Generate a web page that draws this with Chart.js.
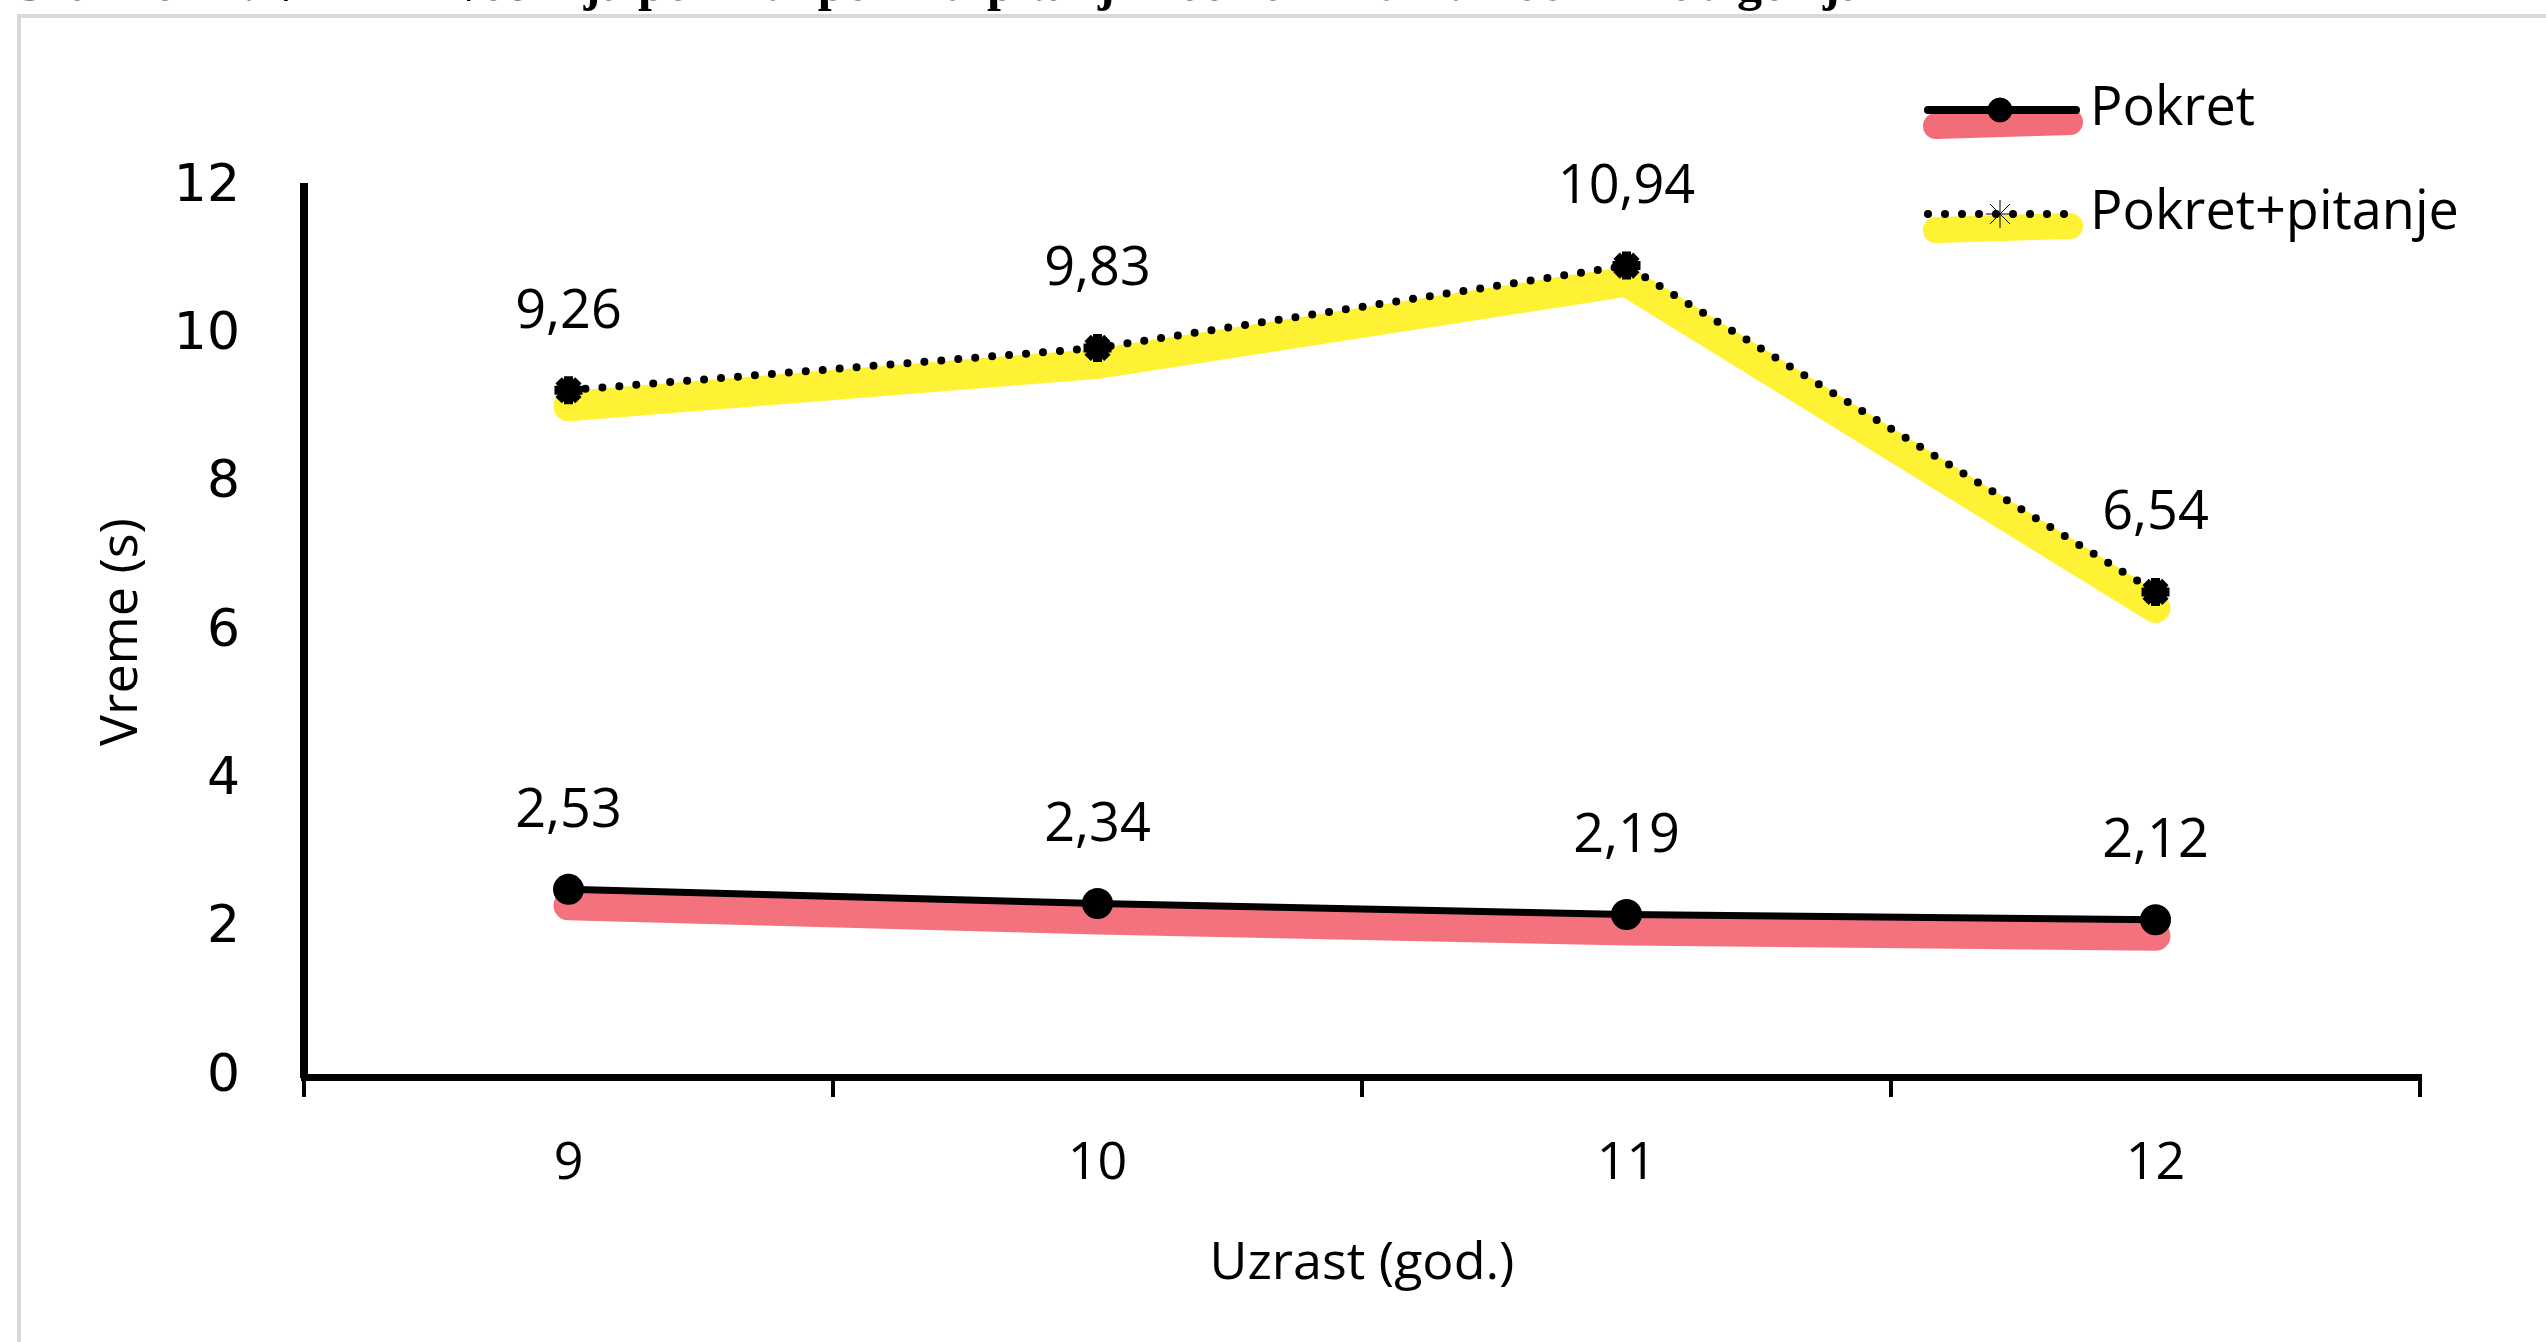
<!DOCTYPE html>
<html>
<head>
<meta charset="utf-8">
<script src="https://cdn.jsdelivr.net/npm/chart.js@4.4.0/dist/chart.umd.min.js"></script>
<style>
  html, body { margin: 0; padding: 0; background: #ffffff; overflow: hidden; }
  #wrap { width: 2546px; height: 1342px; }
</style>
</head>
<body>
<div id="wrap"><canvas id="chart" width="2546" height="1342"></canvas></div>
<script>
// podaci sa grafikona
const uzrast = ["9", "10", "11", "12"];
const pokret = [2.53, 2.34, 2.19, 2.12];
const pokretPitanje = [9.26, 9.83, 10.94, 6.54];
const yTicks = [0, 2, 4, 6, 8, 10, 12];

const naslov = "Grafikon 1. Vreme izvođenja pokret i pokret+pitanje kod različitih uzrasnih kategorija";
const font = "'Open Sans', 'Noto Sans', sans-serif";

// formatira broj sa zarezom
function fmt(v) {
  return v.toFixed(2).replace(".", ",");
}

// okvir i naslov (odsečen gore)
const framePlugin = {
  id: "frame",
  beforeDraw(chart) {
    const ctx = chart.ctx;
    ctx.save();
    ctx.fillStyle = "#ffffff";
    ctx.fillRect(0, 0, chart.width, chart.height);
    ctx.strokeStyle = "#d9d9d9";
    ctx.lineWidth = 4;
    ctx.beginPath();
    ctx.moveTo(19, chart.height + 10);
    ctx.lineTo(19, 16);
    ctx.lineTo(chart.width + 10, 16);
    ctx.stroke();
    ctx.fillStyle = "#000";
    ctx.font = "bold 50px 'Liberation Serif', serif";
    ctx.textBaseline = "alphabetic";
    ctx.fillText(naslov, 8, 0);
    ctx.restore();
  },
};

// pomeranje markera (highlight) malo nadole
const shiftPlugin = {
  id: "shift",
  beforeDatasetDraw(chart, args) {
    const ds = chart.data.datasets[args.index];
    if (ds.shiftY) {
      chart.ctx.save();
      chart.ctx.translate(ds.shiftX || 0, ds.shiftY);
    }
  },
  afterDatasetDraw(chart, args) {
    const ds = chart.data.datasets[args.index];
    if (ds.shiftY) chart.ctx.restore();
  },
};

// vrednosti iznad tačaka
const labelPlugin = {
  id: "labels",
  afterDatasetsDraw(chart) {
    const ctx = chart.ctx;
    ctx.save();
    ctx.fillStyle = "#000";
    ctx.font = "54px " + font;
    ctx.textAlign = "center";
    ctx.textBaseline = "middle";
    chart.data.datasets.forEach((ds, i) => {
      if (!ds.showValues) return;
      chart.getDatasetMeta(i).data.forEach((pt, j) => {
        ctx.fillText(fmt(ds.data[j]), pt.x, pt.y - 78);
      });
    });
    ctx.restore();
  },
};

// legenda kao u originalu
const legendPlugin = {
  id: "customLegend",
  afterDraw(chart) {
    const ctx = chart.ctx;
    const items = [
      { text: "Pokret", y: 110, hl: "rgba(238, 60, 75, 0.75)", dash: [], style: "circle" },
      { text: "Pokret+pitanje", y: 214, hl: "rgba(255, 238, 0, 0.8)", dash: [0, 17], style: "star" },
    ];
    items.forEach((it) => {
      ctx.save();
      // marker
      ctx.strokeStyle = it.hl;
      ctx.lineWidth = 26;
      ctx.lineCap = "round";
      ctx.beginPath();
      ctx.moveTo(1936, it.y + 16);
      ctx.lineTo(2070, it.y + 12);
      ctx.stroke();
      // linija
      ctx.strokeStyle = "#000";
      ctx.lineWidth = 8;
      ctx.lineCap = "round";
      ctx.setLineDash(it.dash);
      ctx.beginPath();
      ctx.moveTo(1928, it.y);
      ctx.lineTo(2076, it.y);
      ctx.stroke();
      ctx.setLineDash([]);
      ctx.restore();
      Chart.helpers.drawPoint(
        ctx,
        { pointStyle: it.style, radius: it.style === "star" ? 14 : 12, borderWidth: it.style === "star" ? 9 : 1 },
        2000,
        it.y
      );
      ctx.save();
      ctx.fillStyle = "#000";
      ctx.font = "54px " + font;
      ctx.textBaseline = "middle";
      ctx.fillText(it.text, 2090, it.y);
      ctx.restore();
    });
  },
};

const ctx = document.getElementById("chart");

new Chart(ctx, {
  type: "line",
  data: {
    labels: uzrast,
    datasets: [
      {
        label: "Pokret",
        data: pokret,
        borderColor: "#000",
        backgroundColor: "#000",
        borderWidth: 7,
        pointStyle: "circle",
        pointRadius: 12,
        pointBorderColor: "#000",
        pointBackgroundColor: "#000",
        showValues: true,
        order: 1,
      },
      {
        label: "Pokret+pitanje",
        data: pokretPitanje,
        borderColor: "#000",
        backgroundColor: "#000",
        borderWidth: 8,
        borderDash: [0, 17],
        borderCapStyle: "round",
        pointStyle: "star",
        pointRadius: 14,
        pointBorderWidth: 9,
        pointBorderColor: "#000",
        pointBackgroundColor: "#000",
        showValues: true,
        order: 2,
      },
      {
        label: "hl-pokret",
        data: pokret,
        borderColor: "rgba(238, 60, 75, 0.72)",
        borderWidth: 30,
        borderCapStyle: "round",
        pointRadius: 0,
        shiftY: 16,
        order: 3,
      },
      {
        label: "hl-pitanje",
        data: pokretPitanje,
        borderColor: "rgba(255, 238, 0, 0.8)",
        borderWidth: 30,
        borderCapStyle: "round",
        pointRadius: 0,
        shiftY: 16,
        order: 4,
      },
    ],
  },
  options: {
    responsive: false,
    animation: false,
    devicePixelRatio: 1,
    layout: { padding: { top: 187, right: 126, left: 0, bottom: 0 } },
    plugins: {
      legend: { display: false },
      tooltip: { enabled: false },
    },
    scales: {
      x: {
        type: "category",
        offset: true,
        afterFit(scale) {
          scale.height = 265;
        },
        grid: {
          offset: true,
          drawOnChartArea: false,
          drawTicks: true,
          tickLength: 20,
          color: "#000",
          lineWidth: 4,
        },
        border: { display: true, color: "#000", width: 7 },
        ticks: {
          color: "#000",
          padding: 36,
          font: { family: font, size: 52 },
        },
        title: {
          display: true,
          text: "Uzrast (god.)",
          color: "#000",
          font: { family: font, size: 52 },
          padding: { top: 0, bottom: 47 },
        },
      },
      y: {
        min: 0,
        max: 12,
        afterFit(scale) {
          scale.width = 304;
        },
        afterBuildTicks(scale) {
          scale.ticks = yTicks.map((v) => ({ value: v }));
        },
        grid: { drawOnChartArea: false, drawTicks: false },
        border: { display: true, color: "#000", width: 8 },
        ticks: {
          color: "#000",
          padding: 64,
          font: { family: "'DejaVu Sans', sans-serif", size: 52 },
        },
        title: {
          display: true,
          text: "Vreme (s)",
          color: "#000",
          font: { family: font, size: 52 },
          padding: { top: 91, bottom: 0 },
        },
      },
    },
  },
  plugins: [framePlugin, shiftPlugin, labelPlugin, legendPlugin],
});
</script>
</body>
</html>
